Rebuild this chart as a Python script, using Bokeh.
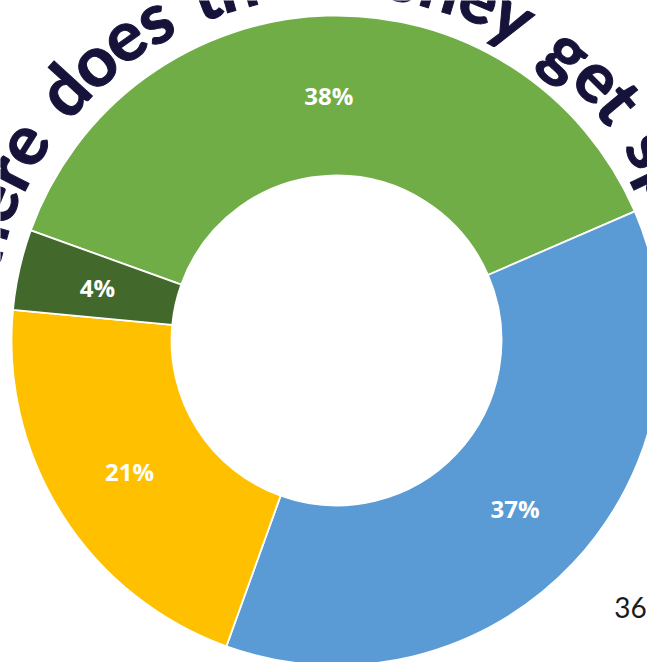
import math
from bokeh.plotting import figure
from bokeh.models import Range1d, ColumnDataSource
from bokeh.core.properties import value
from bokeh.embed import file_html
from bokeh.resources import INLINE

# ---- data ----
values = [38, 37, 21, 4]
pct_labels = ["38%", "37%", "21%", "4%"]
colors = ["#70AD47", "#5B9BD5", "#FFC000", "#43682B"]
title_text = "Where does the money get spent?"
page_number = "36"

# ---- layout / style ----
W, H = 647, 662
CX, CY = 336, H - 340
R_IN, R_OUT = 165, 325
START_DEG = -70.2          # first slice starts here, clockwise from 12 o'clock
TITLE_COLOR = "#16133A"

p = figure(width=W, height=H, x_range=Range1d(0, W), y_range=Range1d(0, H),
           output_backend="svg", toolbar_location=None, min_border=0)
p.axis.visible = False
p.grid.visible = False
p.outline_line_color = None
p.background_fill_color = "white"
p.border_fill_color = "white"

total = float(sum(values))
starts, ends, lx, ly = [], [], [], []
acc = START_DEG
r_mid = (R_IN + R_OUT) / 2.0
for v in values:
    a0 = acc
    a1 = acc + v / total * 360.0
    starts.append(math.radians(90 - a0))
    ends.append(math.radians(90 - a1))
    m = math.radians((a0 + a1) / 2.0)
    lx.append(CX + r_mid * math.sin(m))
    ly.append(CY + r_mid * math.cos(m))
    acc = a1

src = ColumnDataSource(dict(start=starts, end=ends, color=colors,
                            lx=lx, ly=ly, label=pct_labels))
p.annular_wedge(x=CX, y=CY, inner_radius=R_IN, outer_radius=R_OUT,
                start_angle="start", end_angle="end", direction="clock",
                fill_color="color", line_color="white", line_width=1.8,
                source=src)
p.text(x="lx", y="ly", text="label", source=src, text_color="white",
       text_font=value("Open Sans"), text_font_style="bold",
       text_font_size=value("24px"), text_align="center",
       text_baseline="middle")

# ---- curved title ----
WIDTHS = {"W": 1.0, "h": .62, "e": .58, "r": .40, " ": .40, "d": .63,
          "o": .60, "s": .50, "t": .38, "m": .95, "n": .62, "y": .56,
          "g": .62, "p": .63, "?": .50}
ADV = 64.1       # px of arc per em of advance
R_ARC = 357.0    # radius used for the angular spacing
R_PLACE = 372.0  # anchor radius of each glyph
CENTER_DEG = 0.7
tot = sum(WIDTHS.get(c, .6) for c in title_text) * ADV
pos = -tot / 2.0
tx, ty, ta, tc = [], [], [], []
for ch in title_text:
    w = WIDTHS.get(ch, .6) * ADV
    c = pos + w / 2.0
    pos += w
    if ch == " ":
        continue
    th = math.radians(CENTER_DEG) + c / R_ARC
    tx.append(CX + R_PLACE * math.sin(th))
    ty.append(CY + R_PLACE * math.cos(th))
    ta.append(-th)
    tc.append(ch)
p.text(x=tx, y=ty, text=tc, angle=ta, text_color=TITLE_COLOR,
       text_font=value("Lato"), text_font_style="bold",
       text_font_size=value("70px"), text_align="center",
       text_baseline="middle",
       text_outline_color=TITLE_COLOR)

# ---- page number ----
p.text(x=[630], y=[H - 607], text=[page_number], text_color="#1a1a1a",
       text_font=value("Lato"), text_font_size=value("28px"),
       text_align="center", text_baseline="alphabetic")

open("out.html", "w").write(file_html(p, INLINE))
